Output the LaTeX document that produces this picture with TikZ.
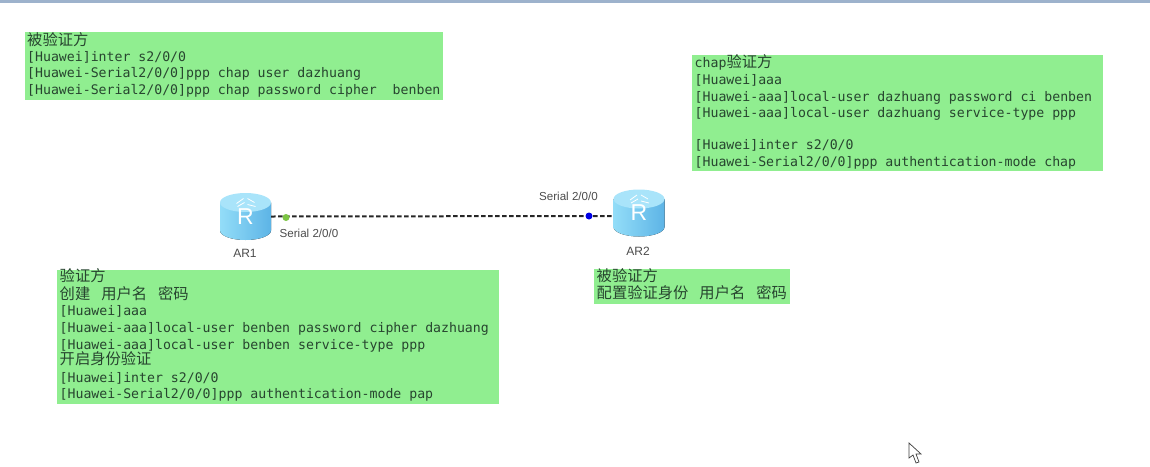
\documentclass[tikz,border=0pt]{standalone}
\usepackage{fontspec}
\setmainfont{Liberation Sans}
\newfontfamily\cjk{Noto Sans CJK SC}
\newfontfamily\clifamily{DejaVu Sans Mono}
\newcommand{\clifont}{\clifamily\fontsize{13.2}{16.3}\selectfont}
\newcommand{\cliloose}{\clifamily\fontsize{13.2}{16.8}\selectfont}
\newcommand{\hanline}[2][0pt]{\raisebox{#1}[9.5pt][3pt]{\cjk\fontsize{15.3}{16}\selectfont #2}}
\definecolor{boxgreen}{HTML}{90EE90}
\definecolor{clitext}{HTML}{27452F}
\definecolor{toplight}{HTML}{A9E4FA}
\definecolor{sideleft}{HTML}{93DDF8}
\definecolor{sideright}{HTML}{5DB4E6}
\definecolor{barblue}{HTML}{9DB2CC}
\definecolor{portgreen}{HTML}{7CC444}
\tikzset{
    cmdbox/.style={fill=boxgreen,anchor=north west,inner xsep=2.5pt,inner ysep=0pt,align=left,
        text=clitext,font=\clifont,execute at begin node={\spaceskip=7.95pt\relax}},
    routerbox/.style={minimum width=51pt,minimum height=47pt,inner sep=0pt,text=white,
        font=\fontsize{23}{23}\selectfont},
    router/.pic={
        \fill[left color=sideleft,right color=sideright] (-25.5,-14) -- (-25.5,14)
            arc [start angle=180,end angle=0,x radius=25.5,y radius=9.5] -- (25.5,-14) -- cycle;
        \fill[toplight] (0,-14) ellipse [x radius=25.5,y radius=9.5];
        \draw[white,line width=0.8pt] (-9,-13) -- (-2,-18) (2,-18) -- (9,-14) (-8,-10) -- (-1,-14) (2,-12) -- (10,-10);
    },
    devlabel/.style={text=black!70,font=\fontsize{12}{14}\selectfont,inner sep=0pt},
    portlabel/.style={text=black!70,font=\fontsize{11.6}{14}\selectfont,inner sep=0pt},
    portdot/.style={circle,inner sep=0pt,minimum size=7pt},
    linkline/.style={line width=2pt,dash pattern=on 4.5pt off 2.5pt,black!85}
}
\begin{document}
\begin{tikzpicture}[x=1pt,y=-1pt]
\useasboundingbox (0,0) rectangle (1150,466);
\fill[barblue] (0,0) rectangle (1150,3); % window edge

%%% ROUTERS %%%
\pic at (245.5,216.5) {router};
\pic at (639,213) {router};
\node[routerbox] (AR1) at (245.5,216.5) {\raisebox{-9.5pt}{R}};
\node[routerbox] (AR2) at (639,213) {\raisebox{-9.5pt}{R}};
\node[devlabel] (AR1name) at (245,253) {AR1};
\node[devlabel] (AR2name) at (638,251) {AR2};

%%% LINK %%%
\draw[linkline] (AR1.east) -- ([yshift=-3pt]AR2.west); % serial line
\node[portdot,fill=portgreen] (P1) at (286,217.5) {};
\node[portdot,fill=blue!90!black] (P2) at (589,216) {};
\node[portlabel] (P1name) at (309,233.5) {Serial 2/0/0};
\node[portlabel] (P2name) at (568.5,196) {Serial 2/0/0};

%%% TOP LEFT BOX %%%
\node[cmdbox,text width=413.5pt,minimum height=68pt] (peerchap) at (24.5,32) {%
\hanline{被验证方}\\
{[Huawei]inter s2/0/0}\\
{[Huawei-Serial2/0/0]ppp chap user dazhuang}\\
{[Huawei-Serial2/0/0]ppp chap password cipher~ benben}};

%%% TOP RIGHT BOX %%%
\node[cmdbox,text width=406pt,minimum height=116pt] (authchap) at (692,55) {%
\raisebox{1pt}{chap}\hanline[1pt]{验证方}\\
{[Huawei]aaa}\\
{[Huawei-aaa]local-user dazhuang password ci benben}\\
{[Huawei-aaa]local-user dazhuang service-type ppp}\\
~\\
{[Huawei]inter s2/0/0}\\
{[Huawei-Serial2/0/0]ppp authentication-mode chap}};

%%% BOTTOM LEFT BOX %%%
\node[cmdbox,font=\cliloose,text width=437pt,minimum height=134pt] (authpap) at (57,270) {%
\hanline[0.5pt]{验证方}\\
\hanline{创建\hspace{11pt}用户名\hspace{11pt}密码}\\
{[Huawei]aaa}\\
{[Huawei-aaa]local-user benben password cipher dazhuang}\\
{[Huawei-aaa]local-user benben service-type ppp}\\[-2pt]
\hanline{开启身份验证}\\[1pt]
{[Huawei]inter s2/0/0}\\
{[Huawei-Serial2/0/0]ppp authentication-mode pap}};

%%% BOTTOM RIGHT BOX %%%
\node[cmdbox,text width=191pt,minimum height=35pt] (peerpap) at (594,269) {%
\hanline{被验证方}\\
\hanline{配置验证身份\hspace{11pt}用户名\hspace{11pt}密码}};

%%% CURSOR %%%
\filldraw[fill=white,draw=black!75,line width=0.7pt] (909,443) -- (909,458) -- (913,455) -- (916,463) -- (919,462) -- (916,454) -- (921,454) -- cycle;
\end{tikzpicture}
\end{document}
